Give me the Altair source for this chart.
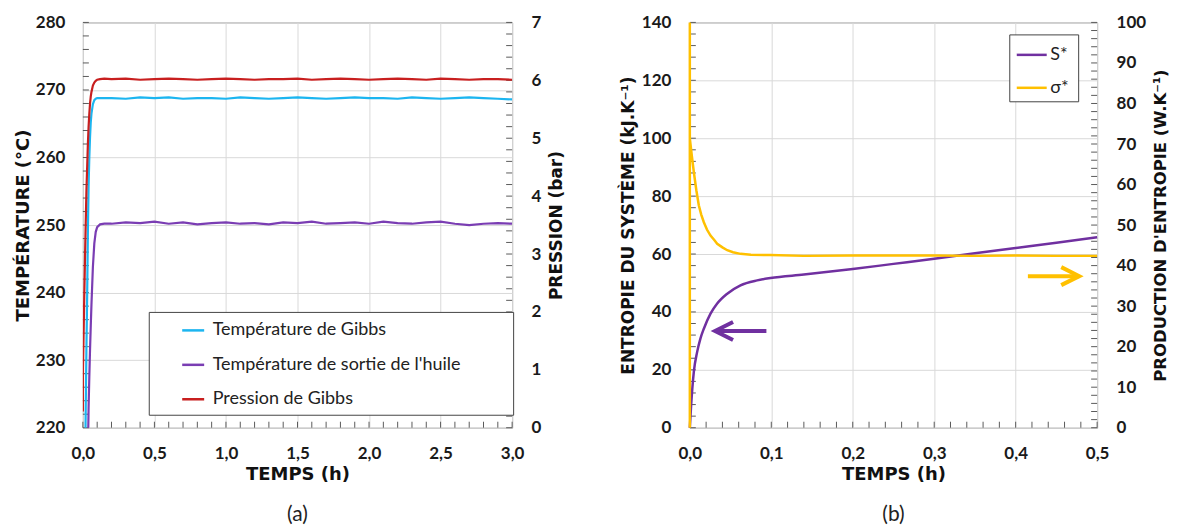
import altair as alt
import pandas as pd

FONT = "Lato"
TFONT = "DejaVu Sans"

# ---------------- Panel (a) data ----------------
t_a = [0.000, 0.001, 0.005, 0.010, 0.015, 0.020, 0.025, 0.030, 0.035, 0.040,
       0.045, 0.050, 0.055, 0.060, 0.070, 0.080, 0.090, 0.100, 0.120, 0.150,
       0.2, 0.3, 0.4, 0.5, 0.6, 0.7, 0.8, 0.9, 1.0, 1.1, 1.2, 1.3, 1.4, 1.5,
       1.6, 1.7, 1.8, 1.9, 2.0, 2.1, 2.2, 2.3, 2.4, 2.5, 2.6, 2.7, 2.8, 2.9, 3.0]
T_gibbs = [205, 205, 206, 208, 213, 223, 232, 239.6, 249, 255.8,
           260, 263, 265.2, 266.5, 267.9, 268.5, 268.7, 268.8, 268.8, 268.8,
           268.8, 268.7, 268.9, 268.8, 268.9, 268.7, 268.8, 268.8, 268.7, 268.9,
           268.8, 268.7, 268.8, 268.9, 268.8, 268.7, 268.8, 268.9, 268.8, 268.8,
           268.7, 268.9, 268.8, 268.7, 268.8, 268.9, 268.8, 268.7, 268.6]
T_huile = [200, 200, 200, 200, 200, 201, 203, 207, 216, 223,
           227.5, 231.5, 235, 238.2, 243.8, 247.3, 249, 249.7, 250.1, 250.2,
           250.2, 250.4, 250.3, 250.5, 250.2, 250.4, 250.1, 250.3, 250.4, 250.2,
           250.3, 250.1, 250.4, 250.3, 250.5, 250.2, 250.3, 250.4, 250.2, 250.5,
           250.3, 250.2, 250.4, 250.5, 250.2, 250.0, 250.2, 250.3, 250.2]
P_gibbs = [0.28, 1.03, 1.6, 2.3, 2.95, 3.55, 4.1, 4.5, 4.9, 5.2,
           5.42, 5.6, 5.72, 5.8, 5.91, 5.96, 5.99, 6.01, 6.02, 6.03,
           6.02, 6.03, 6.01, 6.02, 6.03, 6.02, 6.01, 6.02, 6.03, 6.02,
           6.01, 6.02, 6.02, 6.03, 6.01, 6.02, 6.03, 6.02, 6.01, 6.02,
           6.03, 6.02, 6.01, 6.03, 6.02, 6.01, 6.02, 6.02, 6.01]

series_a = ["Température de Gibbs", "Température de sortie de l'huile", "Pression de Gibbs"]
colors_a = ["#1cb5f0", "#7a3db3", "#c81f1f"]

xa_labels = [0.0, 0.5, 1.0, 1.5, 2.0, 2.5, 3.0]
ya_labels = [220, 230, 240, 250, 260, 270, 280]
pa_labels = [0, 1, 2, 3, 4, 5, 6, 7]
xa_ticks = [round(i * 0.1, 1) for i in range(0, 31)]
ya_ticks = [220 + 2 * i for i in range(0, 31)]
pa_ticks = [round(0.2 * i, 1) for i in range(0, 36)]

# ---------------- Panel (b) data ----------------
t_S = [0.0, 0.0016, 0.0049, 0.009, 0.013, 0.0172, 0.0254, 0.0336, 0.0459, 0.0622,
       0.0827, 0.099, 0.14, 0.2, 0.25, 0.3, 0.35, 0.4, 0.45, 0.5]
S_star = [0, 7.8, 19.3, 26.2, 30.8, 34.2, 39.4, 42.9, 46.3, 49.2,
          50.9, 51.7, 52.9, 54.8, 56.6, 58.4, 60.3, 62.1, 63.9, 65.8]
t_sig = [0.0, 0.0, 0.0, 0.0025, 0.0049, 0.008, 0.011, 0.014, 0.0172, 0.021,
         0.0254, 0.03, 0.0336, 0.04, 0.0459, 0.053, 0.0622, 0.075, 0.099, 0.14,
         0.2, 0.25, 0.3, 0.35, 0.4, 0.45, 0.5]
sig_star = [0, 100, 71.4, 67.0, 63.1, 58.6, 54.9, 52.6, 50.7, 48.9,
            47.4, 46.3, 45.4, 44.5, 43.8, 43.3, 42.9, 42.7, 42.6, 42.4,
            42.5, 42.5, 42.5, 42.4, 42.5, 42.4, 42.4]

series_b = ["S*", "σ*"]
colors_b = ["#7030a0", "#ffc000"]

xb_labels = [0.0, 0.1, 0.2, 0.3, 0.4, 0.5]
yb_labels = [0, 20, 40, 60, 80, 100, 120, 140]
sb_labels = [0, 10, 20, 30, 40, 50, 60, 70, 80, 90, 100]
xb_ticks = [round(i * 0.02, 2) for i in range(0, 26)]
yb_ticks = [4 * i for i in range(0, 36)]
sb_ticks = [2 * i for i in range(0, 51)]

# arrows (tail/head times and level)
arrow_S = {"t0": 0.031, "t1": 0.094, "v": 33.4}
arrow_sig = {"t0": 0.415, "t1": 0.478, "v": 37.4}

# ---------------- sizes ----------------
WA, HA = 430, 406
WB, HB = 408, 406
TICK = 6
TICK_COLOR = "#5a5a5a"
NBSP = "\u00a0"
ZWSP = "\u200b"

comma = "replace(format(datum.value, '.1f'), '.', ',')"

# ---------------- Panel (a) ----------------
xs_a = alt.Scale(domain=[0, 3], nice=False)
ys_a = alt.Scale(domain=[220, 280], nice=False, zero=False)
ps_a = alt.Scale(domain=[0, 7], nice=False)

xax_a = alt.Axis(values=xa_labels, labelExpr=comma, title="TEMPS (h)", grid=True,
                 labelFlush=False, labelPadding=18, titlePadding=4, titleFontSize=18)
yax_a = alt.Axis(values=ya_labels, title="TEMPÉRATURE (°C)", grid=True,
                 labelPadding=18, titlePadding=3, titleFontSize=18)
pax_a = alt.Axis(values=pa_labels, title="PRESSION (bar)", grid=False, orient="right",
                 labelPadding=19, titlePadding=8, titleAngle=270, titleBaseline="top",
                 titleFontSize=17)

color_a = alt.Color("serie:N", scale=alt.Scale(domain=series_a, range=colors_a),
                    legend=alt.Legend(title=None, orient="none", legendX=66, legendY=290,
                                      direction="vertical", symbolType="stroke",
                                      symbolSize=484, symbolStrokeWidth=2.5,
                                      labelFontSize=18, labelColor="#222",
                                      labelFontWeight="normal",
                                      strokeColor="#444", fillColor="white",
                                      padding=6, symbolOffset=26, rowPadding=12.5,
                                      labelOffset=7, labelLimit=600,
                                      labelExpr="datum.label + '" + NBSP * 10 + ZWSP + "'"))

nA = len(t_a)
dfa_T = pd.DataFrame({"t": t_a + t_a, "v": T_gibbs + T_huile,
                      "serie": [series_a[0]] * nA + [series_a[1]] * nA})
dfa_P = pd.DataFrame({"t": t_a, "v": P_gibbs, "serie": [series_a[2]] * nA})

lines_T = alt.Chart(dfa_T).mark_line(strokeWidth=2.2, clip=True).encode(
    x=alt.X("t:Q", scale=xs_a, axis=xax_a),
    y=alt.Y("v:Q", scale=ys_a, axis=yax_a),
    color=color_a,
)
ticks_left_a = alt.Chart(pd.DataFrame({"v": ya_ticks})).mark_rule(color=TICK_COLOR).encode(
    y=alt.Y("v:Q", scale=ys_a, axis=yax_a), x=alt.value(0), x2=alt.value(TICK))
ticks_bot_a = alt.Chart(pd.DataFrame({"t": xa_ticks})).mark_rule(color=TICK_COLOR).encode(
    x=alt.X("t:Q", scale=xs_a, axis=xax_a), y=alt.value(HA - TICK), y2=alt.value(HA))

line_P = alt.Chart(dfa_P).mark_line(strokeWidth=2.2, clip=True).encode(
    x=alt.X("t:Q", scale=xs_a, axis=xax_a),
    y=alt.Y("v:Q", scale=ps_a, axis=pax_a),
    color=color_a,
)
ticks_right_a = alt.Chart(pd.DataFrame({"v": pa_ticks})).mark_rule(color=TICK_COLOR).encode(
    y=alt.Y("v:Q", scale=ps_a, axis=pax_a), x=alt.value(WA - TICK), x2=alt.value(WA))

left_a = alt.layer(ticks_left_a, ticks_bot_a, lines_T)
right_a = alt.layer(ticks_right_a, line_P)
panel_a = alt.layer(left_a, right_a).resolve_scale(y="independent").properties(
    width=WA, height=HA,
    title=alt.TitleParams("(a)", orient="bottom", offset=20, fontSize=21,
                          fontWeight="normal", font=FONT, color="#222"))

# ---------------- Panel (b) ----------------
xs_b = alt.Scale(domain=[0, 0.5], nice=False)
ys_b = alt.Scale(domain=[0, 140], nice=False)
ss_b = alt.Scale(domain=[0, 100], nice=False)

xax_b = alt.Axis(values=xb_labels, labelExpr=comma, title="TEMPS (h)", grid=True,
                 labelFlush=False, labelPadding=18, titlePadding=4, titleFontSize=18)
yax_b = alt.Axis(values=yb_labels, title="ENTROPIE DU SYSTÈME (kJ.K⁻¹)", grid=True,
                 labelPadding=19, titlePadding=4, titleFontSize=17)
sax_b = alt.Axis(values=sb_labels, title="PRODUCTION D'ENTROPIE (W.K⁻¹)", grid=False,
                 orient="right", labelPadding=19, titlePadding=7, titleAngle=270,
                 titleBaseline="top", titleFontSize=16.5)

color_b = alt.Color("serie:N", scale=alt.Scale(domain=series_b, range=colors_b),
                    legend=alt.Legend(title=None, orient="none", legendX=320, legendY=12,
                                      direction="vertical", symbolType="stroke",
                                      symbolSize=900, symbolStrokeWidth=2.5,
                                      labelFontSize=18, labelColor="#222",
                                      strokeColor="#444", fillColor="white",
                                      padding=4, symbolOffset=2, rowPadding=7,
                                      labelOffset=2,
                                      labelExpr="datum.label + '" + NBSP + ZWSP + "'"))

dfb_S = pd.DataFrame({"t": t_S, "v": S_star, "serie": series_b[0],
                      "i": list(range(len(t_S)))})
dfb_sig = pd.DataFrame({"t": t_sig, "v": sig_star, "serie": series_b[1],
                        "i": list(range(len(t_sig)))})

line_S = alt.Chart(dfb_S).mark_line(strokeWidth=2.5, interpolate="monotone").encode(
    x=alt.X("t:Q", scale=xs_b, axis=xax_b),
    y=alt.Y("v:Q", scale=ys_b, axis=yax_b),
    color=color_b, order="i:Q")
ticks_left_b = alt.Chart(pd.DataFrame({"v": yb_ticks})).mark_rule(color=TICK_COLOR).encode(
    y=alt.Y("v:Q", scale=ys_b, axis=yax_b), x=alt.value(0), x2=alt.value(TICK))
ticks_bot_b = alt.Chart(pd.DataFrame({"t": xb_ticks})).mark_rule(color=TICK_COLOR).encode(
    x=alt.X("t:Q", scale=xs_b, axis=xax_b), y=alt.value(HB - TICK), y2=alt.value(HB))

dfa_arrS = pd.DataFrame([arrow_S])
arrS_shaft = alt.Chart(dfa_arrS).mark_rule(color=colors_b[0], strokeWidth=4).encode(
    x=alt.X("t0:Q", scale=xs_b, axis=xax_b), x2="t1:Q",
    y=alt.Y("v:Q", scale=ys_b, axis=yax_b))
arrS_head = alt.Chart(dfa_arrS).mark_point(
    shape="M 2 -1 L 0 0 L 2 1", filled=False, strokeWidth=4,
    color=colors_b[0], opacity=1, size=324, strokeJoin="miter").encode(
    x=alt.X("t0:Q", scale=xs_b, axis=xax_b),
    y=alt.Y("v:Q", scale=ys_b, axis=yax_b))

line_sig = alt.Chart(dfb_sig).mark_line(strokeWidth=2.5).encode(
    x=alt.X("t:Q", scale=xs_b, axis=xax_b),
    y=alt.Y("v:Q", scale=ss_b, axis=sax_b),
    color=color_b, order="i:Q")
ticks_right_b = alt.Chart(pd.DataFrame({"v": sb_ticks})).mark_rule(color=TICK_COLOR).encode(
    y=alt.Y("v:Q", scale=ss_b, axis=sax_b), x=alt.value(WB - TICK), x2=alt.value(WB))

dfa_arrSig = pd.DataFrame([arrow_sig])
arrSig_shaft = alt.Chart(dfa_arrSig).mark_rule(color=colors_b[1], strokeWidth=4).encode(
    x=alt.X("t0:Q", scale=xs_b, axis=xax_b), x2="t1:Q",
    y=alt.Y("v:Q", scale=ss_b, axis=sax_b))
arrSig_head = alt.Chart(dfa_arrSig).mark_point(
    shape="M -2 -1 L 0 0 L -2 1", filled=False, strokeWidth=4,
    color=colors_b[1], opacity=1, size=324, strokeJoin="miter").encode(
    x=alt.X("t1:Q", scale=xs_b, axis=xax_b),
    y=alt.Y("v:Q", scale=ss_b, axis=sax_b))

left_b = alt.layer(ticks_left_b, ticks_bot_b, arrS_shaft, arrS_head, line_S)
right_b = alt.layer(ticks_right_b, arrSig_shaft, arrSig_head, line_sig)
panel_b = alt.layer(left_b, right_b).resolve_scale(y="independent").properties(
    width=WB, height=HB,
    title=alt.TitleParams("(b)", orient="bottom", offset=20, fontSize=21,
                          fontWeight="normal", font=FONT, color="#222"))

chart = alt.hconcat(panel_a, panel_b, spacing=52).resolve_scale(
    color="independent").resolve_legend(color="independent").properties(
    padding={"left": 5, "top": 4, "right": 0, "bottom": 0}
).configure_view(stroke="#8a8a8a", strokeWidth=1).configure_axis(
    labelFont=FONT, titleFont=TFONT, labelFontSize=17, labelFontWeight="bold",
    labelColor="#1a1a1a", titleFontSize=16.5, titleFontWeight="bold", titleColor="#111",
    gridColor="#d9d9d9", gridWidth=1, domain=False, ticks=False
).configure_legend(labelFont=FONT)

chart.save("out.html", embed_options={"renderer": "svg", "actions": False})
